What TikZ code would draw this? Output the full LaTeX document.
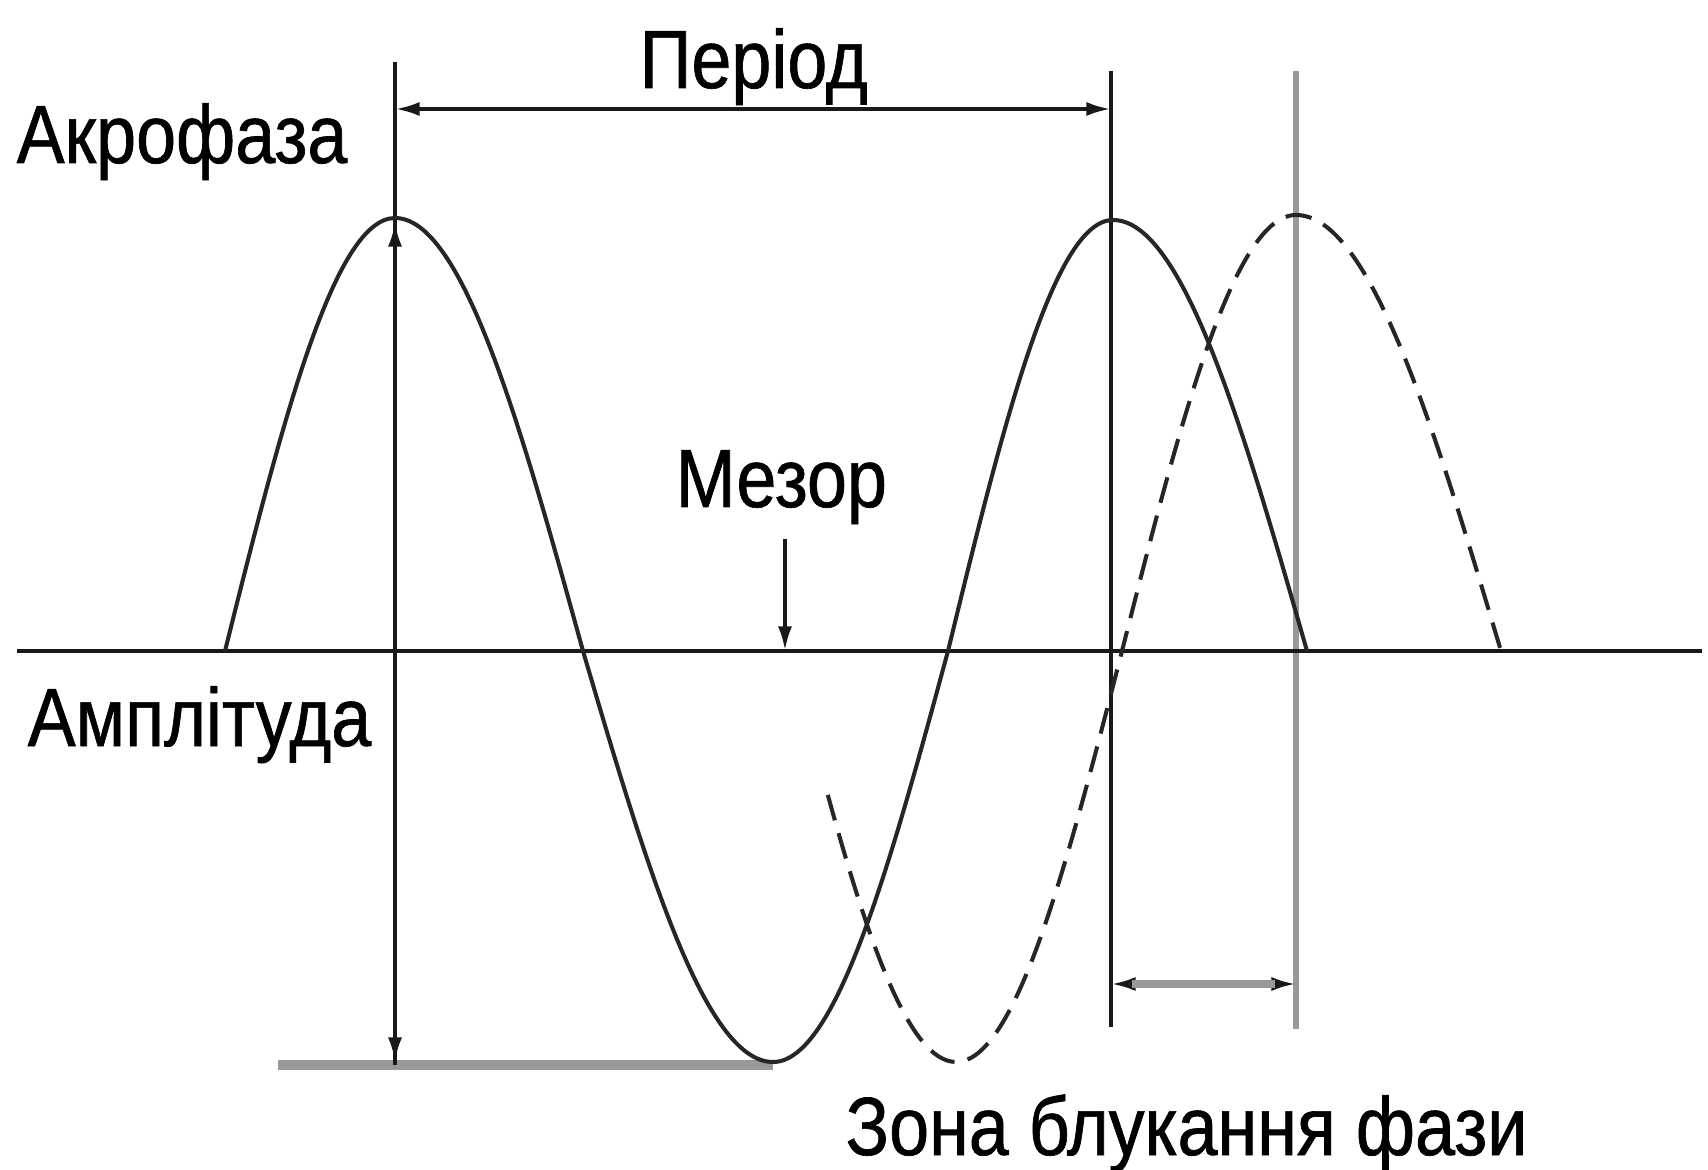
\documentclass[tikz,border=0pt]{standalone}
\usepackage{fontspec}
\setmainfont{Liberation Sans}[FakeStretch=0.87, FakeBold=0.8]
\usetikzlibrary{arrows.meta}
\begin{document}
\begin{tikzpicture}[x=0.01cm,y=-0.01cm,
  lbl/.style={font=\fontsize{23.5}{26}\selectfont, inner sep=0, anchor=base west},
  ln/.style={line width=1.1pt, black!90},
  gry/.style={line width=1.2pt, color=black!40},
  crv/.style={line width=1.15pt, black!85},
  dsh/.style={crv, dash pattern=on 7.5pt off 3.8pt},
  arr/.style={-{Latex[length=7pt,width=4pt]}},
  darr/.style={{Latex[length=7pt,width=4pt]}-{Latex[length=7pt,width=4pt]}}
]
\useasboundingbox (0,0) rectangle (1708,1170);
% labels
\node[lbl] (akro) at (16,163) {Акрофаза};
\node[lbl] (per) at (639,88) {Період};
\node[lbl] (mez) at (675,507) {Мезор};
\node[lbl] (ampl) at (27,746) {Амплітуда};
\node[lbl] (zona) at (845,1155) {Зона блукання фази};
% coordinates
\coordinate (bl) at (17,651);
\coordinate (br) at (1702,651);
\coordinate (l1t) at (395,62);
\coordinate (l1b) at (395,1065);
\coordinate (l2t) at (1111,71);
\coordinate (l2b) at (1111,1027);
\coordinate (l3t) at (1296,71);
\coordinate (l3b) at (1296,1029);
\coordinate (pl) at (395,109);
\coordinate (pr) at (1111,109);
\coordinate (at) at (395,222);
\coordinate (ab) at (395,1062);
\coordinate (mt) at (785,539);
\coordinate (mb) at (785,651);
\coordinate (zl) at (1111,984);
\coordinate (zr) at (1296,984);
\coordinate (gl) at (278,1065);
\coordinate (gr) at (773,1065);
% gray lines
\draw[gry, line width=2.6pt] (gl) -- (gr);
\draw[gry, line width=1.5pt] (l3t) -- (l3b);
% phase-zone arrow: black tips, gray shaft
\draw[ln, darr] (zl) -- (zr);
\draw[gry, line width=2pt, shorten <=6pt, shorten >=6pt] (zl) -- (zr);
% axis and verticals
\draw[ln] (bl) -- (br);
\draw[ln] (l1t) -- (l1b);
\draw[ln] (l2t) -- (l2b);
% arrows
\draw[ln, darr] (pl) -- (pr);
\draw[ln, darr] (at) -- (ab);
\draw[ln, arr] (mt) -- (mb);
% curves
\draw[crv] (225,651) sin (395,218) cos (583,651) sin (773,1062) cos (948,651) sin (1113,220) cos (1307,651);
\draw[dsh] plot[domain=20.5:90, samples=30] ({790+166*\x/90},{651+411*sin(\x)}) cos (1122,651) sin (1296,215) cos (1501,651);
\end{tikzpicture}
\end{document}
